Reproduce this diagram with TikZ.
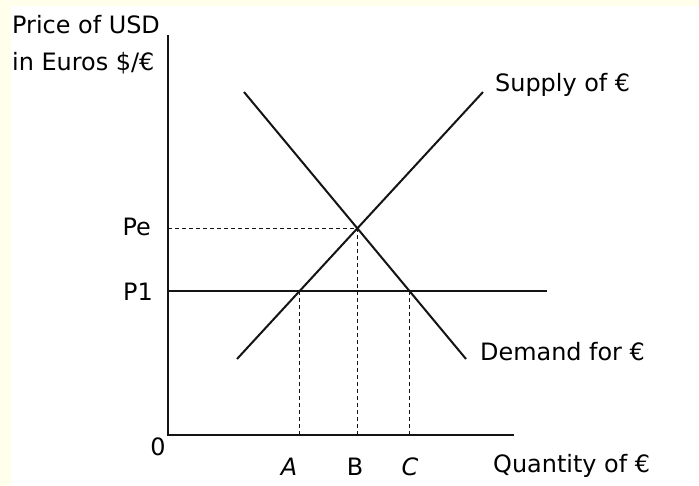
\documentclass[tikz,border=0pt]{standalone}
\usepackage{fontspec}
\setmainfont{DejaVu Sans}
\definecolor{cream}{RGB}{255,255,236}
\definecolor{ink}{RGB}{20,20,20}
\begin{document}
\begin{tikzpicture}[x=1bp,y=-1bp,
  lbl/.style={inner sep=0pt,font=\fontsize{24}{28}\selectfont,text=black},
  curve/.style={draw=ink,line width=2bp},
  axis/.style={draw=ink,line width=2bp},
  guide/.style={draw=ink,line width=1.6bp,dash pattern=on 4bp off 3bp}]
\useasboundingbox (0,0) rectangle (699,486);
\fill[cream] (0,0) rectangle (699,486);
\fill[white] (11,6) rectangle (699,486);
% axes
\coordinate (O) at (168,435);
\coordinate (Ytop) at (168,35);
\coordinate (Xend) at (514,435);
\draw[axis] (Ytop) -- (O) -- (Xend);
% supply and demand
\coordinate (S1) at (237,359);
\coordinate (S2) at (483,92);
\coordinate (D1) at (244,92);
\coordinate (D2) at (466,359);
\coordinate (P1a) at (168,291);
\coordinate (P1b) at (547,291);
\draw[curve] (S1) -- (S2);
\draw[curve] (D1) -- (D2);
\draw[curve] (P1a) -- (P1b);
\coordinate (E) at (intersection of S1--S2 and D1--D2);
\coordinate (Apt) at (intersection of S1--S2 and P1a--P1b);
\coordinate (Cpt) at (intersection of D1--D2 and P1a--P1b);
\coordinate (PeY) at (O |- E);
\coordinate (Ax) at (Apt |- O);
\coordinate (Bx) at (E |- O);
\coordinate (Cx) at (Cpt |- O);
\draw[guide] (PeY) -- (E) -- (Bx);
\draw[guide] (Apt) -- (Ax);
\draw[guide] (Cpt) -- (Cx);
% labels
\node[lbl,anchor=base west] (ylab1) at (12,34) {Price of USD};
\node[lbl,anchor=base west] (ylab2) at (12,71) {in Euros \$/€};
\node[lbl,anchor=base east] (pe) at (151,236) {Pe};
\node[lbl,anchor=base east] (p1) at (153,300) {P1};
\node[lbl,anchor=base] (zero) at (158,455) {0};
\node[lbl,anchor=base] (la) at (289,475) {\itshape A};
\node[lbl,anchor=base] (lb) at (355,475) {B};
\node[lbl,anchor=base] (lc) at (410,475) {\itshape C};
\node[lbl,anchor=base west] (xlab) at (493,472) {Quantity of €};
\node[lbl,anchor=base west] (sup) at (495,92) {Supply of €};
\node[lbl,anchor=base west] (dem) at (480,360) {Demand for €};
\end{tikzpicture}
\end{document}
